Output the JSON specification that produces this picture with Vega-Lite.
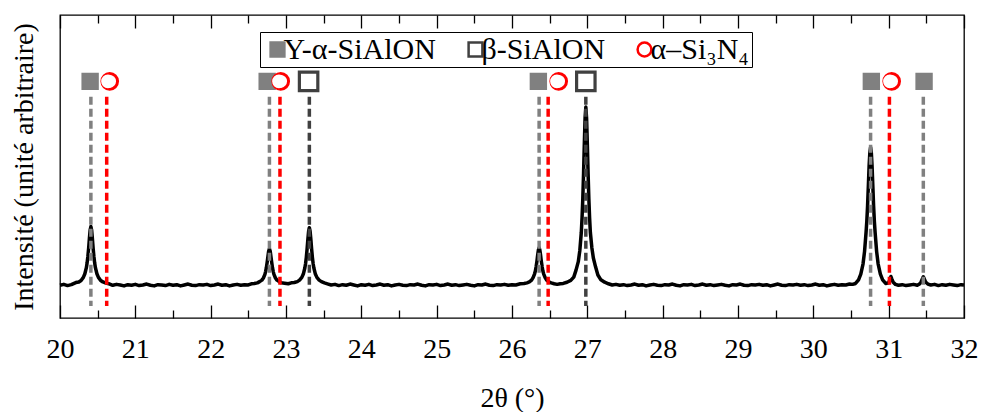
{
  "$schema": "https://vega.github.io/schema/vega-lite/v6.json",
  "width": 904,
  "height": 303,
  "autosize": "none",
  "padding": {"left": 60, "top": 15, "right": 17, "bottom": 94},
  "background": "white",
  "config": {
    "font": "Liberation Serif",
    "view": {"stroke": "black", "strokeWidth": 1.3},
    "axis": {"grid": false, "domain": false, "tickColor": "black", "tickWidth": 1.3, "labelColor": "black", "titleColor": "black", "labelFont": "Liberation Serif", "titleFont": "Liberation Serif", "titleFontWeight": "normal"},
    "legend": {"orient": "none", "legendX": 200, "legendY": 17, "direction": "horizontal", "labelFontSize": 30, "labelFont": "Liberation Serif", "labelColor": "black", "labelLimit": 400, "labelOffset": -9, "columnPadding": 24, "symbolSize": 190, "symbolStrokeWidth": 2.5, "symbolOpacity": 1, "padding": 2.5, "strokeColor": "black", "fillColor": "white", "cornerRadius": 0}
  },
  "datasets": {
    "spectrum": [
      {"t":20.00,"i":10.8},{"t":20.05,"i":11.1},{"t":20.10,"i":10.7},{"t":20.15,"i":11.0},{"t":20.21,"i":11.7},{"t":20.25,"i":11.9},{"t":20.28,"i":12.4},{"t":20.31,"i":13.4},{"t":20.33,"i":14.6},{"t":20.35,"i":16.6},{"t":20.36,"i":18.2},{"t":20.37,"i":20.3},{"t":20.38,"i":23.0},{"t":20.39,"i":26.2},{"t":20.40,"i":29.0},{"t":20.41,"i":30.2},{"t":20.42,"i":29.0},{"t":20.43,"i":26.2},{"t":20.44,"i":23.0},{"t":20.45,"i":20.3},{"t":20.46,"i":18.2},{"t":20.47,"i":16.6},{"t":20.49,"i":14.6},{"t":20.51,"i":13.4},{"t":20.54,"i":12.4},{"t":20.57,"i":11.9},{"t":20.61,"i":11.5},{"t":20.66,"i":11.2},
      {"t":20.70,"i":10.8},{"t":20.75,"i":11.1},{"t":20.80,"i":10.9},{"t":20.85,"i":10.6},{"t":20.90,"i":11.0},{"t":20.95,"i":10.8},{"t":21.00,"i":11.1},{"t":21.05,"i":10.7},{"t":21.10,"i":10.9},{"t":21.15,"i":11.2},{"t":21.20,"i":10.8},{"t":21.25,"i":10.6},{"t":21.30,"i":11.0},{"t":21.35,"i":10.9},{"t":21.40,"i":10.7},{"t":21.45,"i":11.1},{"t":21.50,"i":10.8},{"t":21.55,"i":11.0},{"t":21.60,"i":10.6},{"t":21.65,"i":10.9},{"t":21.70,"i":11.2},{"t":21.75,"i":10.8},{"t":21.80,"i":10.7},{"t":21.85,"i":11.0},{"t":21.90,"i":10.9},{"t":21.95,"i":11.1},{"t":22.00,"i":10.7},{"t":22.05,"i":10.9},{"t":22.10,"i":11.2},{"t":22.15,"i":10.8},{"t":22.20,"i":11.0},{"t":22.25,"i":10.6},{"t":22.30,"i":10.9},{"t":22.35,"i":11.1},{"t":22.40,"i":10.8},{"t":22.45,"i":11.0},{"t":22.50,"i":10.9},
      {"t":22.54,"i":11.3},{"t":22.58,"i":11.4},{"t":22.62,"i":11.6},{"t":22.65,"i":12.0},{"t":22.68,"i":12.5},{"t":22.70,"i":13.2},{"t":22.72,"i":14.4},{"t":22.73,"i":15.4},{"t":22.74,"i":16.7},{"t":22.75,"i":18.4},{"t":22.76,"i":20.3},{"t":22.77,"i":22.1},{"t":22.78,"i":22.8},{"t":22.79,"i":22.1},{"t":22.80,"i":20.3},{"t":22.81,"i":18.4},{"t":22.82,"i":16.7},{"t":22.83,"i":15.4},{"t":22.84,"i":14.4},{"t":22.86,"i":13.2},{"t":22.88,"i":12.5},{"t":22.91,"i":12.0},{"t":22.94,"i":11.6},{"t":22.98,"i":11.5},{"t":23.03,"i":11.3},
      {"t":23.07,"i":11.6},{"t":23.11,"i":11.7},{"t":23.15,"i":12.0},{"t":23.18,"i":12.5},{"t":23.21,"i":13.4},{"t":23.23,"i":14.5},{"t":23.25,"i":16.5},{"t":23.26,"i":18.0},{"t":23.27,"i":20.1},{"t":23.28,"i":22.8},{"t":23.29,"i":25.9},{"t":23.30,"i":28.6},{"t":23.31,"i":29.8},{"t":23.32,"i":28.6},{"t":23.33,"i":25.9},{"t":23.34,"i":22.8},{"t":23.35,"i":20.1},{"t":23.36,"i":18.0},{"t":23.37,"i":16.5},{"t":23.39,"i":14.5},{"t":23.41,"i":13.4},{"t":23.44,"i":12.5},{"t":23.47,"i":12.0},{"t":23.51,"i":11.6},{"t":23.56,"i":11.2},
      {"t":23.60,"i":10.9},{"t":23.65,"i":11.1},{"t":23.70,"i":10.7},{"t":23.75,"i":11.0},{"t":23.80,"i":10.8},{"t":23.85,"i":11.2},{"t":23.90,"i":10.9},{"t":23.95,"i":10.6},{"t":24.00,"i":11.0},{"t":24.05,"i":10.8},{"t":24.10,"i":11.1},{"t":24.15,"i":10.7},{"t":24.20,"i":10.9},{"t":24.25,"i":11.2},{"t":24.30,"i":10.8},{"t":24.35,"i":11.0},{"t":24.40,"i":10.6},{"t":24.45,"i":10.9},{"t":24.50,"i":11.1},{"t":24.55,"i":10.8},{"t":24.60,"i":10.7},{"t":24.65,"i":11.0},{"t":24.70,"i":10.9},{"t":24.75,"i":11.2},{"t":24.80,"i":10.8},{"t":24.85,"i":10.6},{"t":24.90,"i":11.0},{"t":24.95,"i":10.9},{"t":25.00,"i":11.1},{"t":25.05,"i":10.7},{"t":25.10,"i":10.9},{"t":25.15,"i":11.2},{"t":25.20,"i":10.8},{"t":25.25,"i":11.0},{"t":25.30,"i":10.7},{"t":25.35,"i":10.9},{"t":25.40,"i":11.1},{"t":25.45,"i":10.8},{"t":25.50,"i":10.6},{"t":25.55,"i":11.0},{"t":25.60,"i":10.9},{"t":25.65,"i":11.2},{"t":25.70,"i":10.8},{"t":25.75,"i":10.7},{"t":25.80,"i":11.0},{"t":25.85,"i":10.9},{"t":25.90,"i":11.1},{"t":25.95,"i":10.8},{"t":26.00,"i":11.0},{"t":26.05,"i":10.9},
      {"t":26.11,"i":11.3},{"t":26.16,"i":11.4},{"t":26.20,"i":11.6},{"t":26.23,"i":11.9},{"t":26.26,"i":12.5},{"t":26.28,"i":13.3},{"t":26.30,"i":14.6},{"t":26.31,"i":15.5},{"t":26.32,"i":16.9},{"t":26.33,"i":18.6},{"t":26.34,"i":20.6},{"t":26.35,"i":22.4},{"t":26.36,"i":23.2},{"t":26.37,"i":22.4},{"t":26.38,"i":20.6},{"t":26.39,"i":18.6},{"t":26.40,"i":16.9},{"t":26.41,"i":15.5},{"t":26.42,"i":14.6},{"t":26.44,"i":13.3},{"t":26.46,"i":12.5},{"t":26.49,"i":11.9},{"t":26.52,"i":11.6},{"t":26.56,"i":11.3},{"t":26.60,"i":11.1},{"t":26.64,"i":11.3},
      {"t":26.68,"i":11.4},{"t":26.73,"i":11.8},{"t":26.78,"i":12.4},{"t":26.82,"i":13.5},{"t":26.85,"i":15.8},{"t":26.88,"i":18.6},{"t":26.90,"i":22.2},{"t":26.92,"i":28.3},{"t":26.93,"i":33.1},{"t":26.94,"i":39.5},{"t":26.95,"i":47.8},{"t":26.96,"i":57.4},{"t":26.97,"i":66.0},{"t":26.98,"i":69.6},{"t":26.99,"i":66.0},{"t":27.00,"i":57.4},{"t":27.01,"i":47.8},{"t":27.02,"i":39.5},{"t":27.03,"i":33.1},{"t":27.04,"i":28.3},{"t":27.06,"i":23.2},{"t":27.08,"i":19.8},{"t":27.11,"i":16.8},{"t":27.14,"i":14.2},{"t":27.18,"i":12.6},{"t":27.23,"i":11.8},{"t":27.28,"i":11.3},
      {"t":27.33,"i":10.9},{"t":27.38,"i":11.1},{"t":27.43,"i":10.8},{"t":27.48,"i":11.0},{"t":27.53,"i":10.7},{"t":27.58,"i":10.9},{"t":27.63,"i":11.2},{"t":27.68,"i":10.8},{"t":27.73,"i":11.0},{"t":27.78,"i":10.6},{"t":27.83,"i":10.9},{"t":27.88,"i":11.1},{"t":27.93,"i":10.8},{"t":27.98,"i":10.7},{"t":28.03,"i":11.0},{"t":28.08,"i":10.9},{"t":28.13,"i":11.2},{"t":28.18,"i":10.8},{"t":28.23,"i":10.6},{"t":28.28,"i":11.0},{"t":28.33,"i":10.9},{"t":28.38,"i":11.1},{"t":28.43,"i":10.7},{"t":28.48,"i":10.9},{"t":28.53,"i":11.2},{"t":28.58,"i":10.8},{"t":28.63,"i":11.0},{"t":28.68,"i":10.7},{"t":28.73,"i":10.9},{"t":28.78,"i":11.1},{"t":28.83,"i":10.8},{"t":28.88,"i":10.6},{"t":28.93,"i":11.0},{"t":28.98,"i":10.9},{"t":29.03,"i":11.2},{"t":29.08,"i":10.8},{"t":29.13,"i":10.7},{"t":29.18,"i":11.0},{"t":29.23,"i":10.9},{"t":29.28,"i":11.1},{"t":29.33,"i":10.8},{"t":29.38,"i":11.0},{"t":29.43,"i":10.6},{"t":29.48,"i":10.9},{"t":29.53,"i":11.2},{"t":29.58,"i":10.8},{"t":29.63,"i":10.7},{"t":29.68,"i":11.0},{"t":29.73,"i":10.9},{"t":29.78,"i":11.1},{"t":29.83,"i":10.8},{"t":29.88,"i":11.0},{"t":29.93,"i":10.7},{"t":29.98,"i":10.9},{"t":30.03,"i":11.2},{"t":30.08,"i":10.8},{"t":30.13,"i":11.0},{"t":30.18,"i":10.6},{"t":30.23,"i":10.9},{"t":30.28,"i":11.1},{"t":30.33,"i":10.8},{"t":30.38,"i":11.0},{"t":30.43,"i":10.9},{"t":30.48,"i":11.2},
      {"t":30.52,"i":11.1},{"t":30.56,"i":11.4},{"t":30.60,"i":12.6},{"t":30.63,"i":14.5},{"t":30.66,"i":17.9},{"t":30.68,"i":22.0},{"t":30.70,"i":28.3},{"t":30.71,"i":32.0},{"t":30.72,"i":37.0},{"t":30.73,"i":43.5},{"t":30.74,"i":50.0},{"t":30.75,"i":54.5},{"t":30.76,"i":56.4},{"t":30.77,"i":54.5},{"t":30.78,"i":50.0},{"t":30.79,"i":43.5},{"t":30.80,"i":37.0},{"t":30.81,"i":32.0},{"t":30.82,"i":28.3},{"t":30.84,"i":22.0},{"t":30.86,"i":17.9},{"t":30.89,"i":14.5},{"t":30.92,"i":12.6},{"t":30.96,"i":11.4},
      {"t":31.00,"i":11.6},{"t":31.02,"i":13.0},{"t":31.03,"i":13.7},{"t":31.04,"i":13.0},{"t":31.06,"i":11.8},{"t":31.09,"i":11.1},{"t":31.13,"i":10.8},{"t":31.18,"i":11.0},{"t":31.23,"i":10.7},{"t":31.28,"i":10.9},{"t":31.33,"i":11.1},{"t":31.38,"i":10.8},
      {"t":31.41,"i":11.2},{"t":31.43,"i":11.9},{"t":31.45,"i":13.1},{"t":31.46,"i":13.6},{"t":31.47,"i":13.1},{"t":31.49,"i":11.9},{"t":31.52,"i":11.2},{"t":31.56,"i":10.9},{"t":31.61,"i":11.1},{"t":31.66,"i":10.7},{"t":31.71,"i":11.0},{"t":31.76,"i":10.8},{"t":31.81,"i":11.1},{"t":31.86,"i":10.9},{"t":31.91,"i":10.7},{"t":31.96,"i":11.0},{"t":32.00,"i":10.9}
    ],
    "refs": [
      {"phase":"Y-α-SiAlON","pos":20.41},{"phase":"Y-α-SiAlON","pos":22.78},{"phase":"Y-α-SiAlON","pos":26.36},{"phase":"Y-α-SiAlON","pos":30.76},{"phase":"Y-α-SiAlON","pos":31.46},
      {"phase":"β-SiAlON","pos":23.31},{"phase":"β-SiAlON","pos":26.98},
      {"phase":"α–Si₃N₄","pos":20.62},{"phase":"α–Si₃N₄","pos":22.92},{"phase":"α–Si₃N₄","pos":26.48},{"phase":"α–Si₃N₄","pos":31.01}
    ],
    "markers": [
      {"phase":"Y-α-SiAlON","pos":20.40},{"phase":"Y-α-SiAlON","pos":22.75},{"phase":"Y-α-SiAlON","pos":26.35},{"phase":"Y-α-SiAlON","pos":30.77},{"phase":"Y-α-SiAlON","pos":31.47},
      {"phase":"β-SiAlON","pos":23.30},{"phase":"β-SiAlON","pos":26.98},
      {"phase":"α–Si₃N₄","pos":20.66},{"phase":"α–Si₃N₄","pos":22.93},{"phase":"α–Si₃N₄","pos":26.62},{"phase":"α–Si₃N₄","pos":31.04}
    ]
  },
  "layer": [
    {
      "data": {"name": "spectrum"},
      "mark": {"type": "line", "color": "black", "strokeWidth": 3.5, "strokeJoin": "round"},
      "encoding": {
        "x": {"field": "t", "type": "quantitative", "scale": {"domain": [20, 32], "nice": false, "zero": false},
          "axis": {"orient": "bottom", "values": [20,21,22,23,24,25,26,27,28,29,30,31,32], "format": "d", "tickSize": -13, "labelFontSize": 28, "labelPadding": 30, "labelOverlap": false, "labelFlush": false, "title": "2θ (°)", "titleFontSize": 28, "titlePadding": 21}},
        "y": {"field": "i", "type": "quantitative", "scale": {"domain": [0, 100], "nice": false, "zero": false},
          "axis": {"ticks": false, "labels": false, "title": "Intensité (unité arbitraire)", "titleFontSize": 28, "titlePadding": 22}}
      }
    },
    {
      "data": {"name": "refs"},
      "mark": {"type": "rule", "strokeWidth": 3.5, "strokeDash": [8, 4]},
      "encoding": {
        "x": {"field": "pos", "type": "quantitative", "scale": {"domain": [20, 32], "nice": false, "zero": false},
          "axis": {"orient": "bottom", "values": [20.5,21.5,22.5,23.5,24.5,25.5,26.5,27.5,28.5,29.5,30.5,31.5], "tickSize": -8, "labels": false, "title": null}},
        "y": {"datum": 73, "type": "quantitative", "scale": {"domain": [0, 100], "nice": false, "zero": false}, "axis": {"ticks": false, "labels": false, "title": "Intensité (unité arbitraire)", "titleFontSize": 28, "titlePadding": 22}},
        "y2": {"datum": 4},
        "color": {"condition": [{"test": "datum.phase === 'β-SiAlON'", "value": "#404040"}, {"test": "datum.phase === 'α–Si₃N₄'", "value": "#ff0000"}], "value": "#808080"}
      }
    },
    {
      "data": {"name": "markers"},
      "transform": [{"filter": "datum.phase === 'Y-α-SiAlON'"}],
      "mark": {"type": "point", "filled": true, "strokeWidth": 3, "opacity": 1, "size": 207},
      "encoding": {
        "x": {"field": "pos", "type": "quantitative", "scale": {"domain": [20, 32], "nice": false, "zero": false},
          "axis": {"orient": "top", "values": [20,21,22,23,24,25,26,27,28,29,30,31,32], "tickSize": -13, "labels": false, "title": null}},
        "y": {"datum": 78.1, "type": "quantitative", "scale": {"domain": [0, 100], "nice": false, "zero": false}, "axis": {"ticks": false, "labels": false, "title": "Intensité (unité arbitraire)", "titleFontSize": 28, "titlePadding": 22}},
        "shape": {"field": "phase", "type": "nominal", "scale": {"domain": ["Y-α-SiAlON", "β-SiAlON", "α–Si₃N₄"], "range": ["square", "square", "circle"]}, "legend": {"title": null}},
        "fill": {"field": "phase", "type": "nominal", "scale": {"domain": ["Y-α-SiAlON", "β-SiAlON", "α–Si₃N₄"], "range": ["#808080", "white", "white"]}, "legend": {"title": null}},
        "stroke": {"field": "phase", "type": "nominal", "scale": {"domain": ["Y-α-SiAlON", "β-SiAlON", "α–Si₃N₄"], "range": ["#808080", "#404040", "#ff0000"]}, "legend": {"title": null}}
      }
    },
    {
      "data": {"name": "markers"},
      "transform": [{"filter": "datum.phase === 'β-SiAlON'"}],
      "mark": {"type": "point", "filled": true, "strokeWidth": 3.2, "opacity": 1, "size": 340},
      "encoding": {
        "x": {"field": "pos", "type": "quantitative", "scale": {"domain": [20, 32], "nice": false, "zero": false},
          "axis": {"orient": "top", "values": [20.5,21.5,22.5,23.5,24.5,25.5,26.5,27.5,28.5,29.5,30.5,31.5], "tickSize": -8, "labels": false, "title": null}},
        "y": {"datum": 78.1, "type": "quantitative", "scale": {"domain": [0, 100], "nice": false, "zero": false}, "axis": {"ticks": false, "labels": false, "title": "Intensité (unité arbitraire)", "titleFontSize": 28, "titlePadding": 22}},
        "shape": {"field": "phase", "type": "nominal", "scale": {"domain": ["Y-α-SiAlON", "β-SiAlON", "α–Si₃N₄"], "range": ["square", "square", "circle"]}, "legend": {"title": null}},
        "fill": {"field": "phase", "type": "nominal", "scale": {"domain": ["Y-α-SiAlON", "β-SiAlON", "α–Si₃N₄"], "range": ["#808080", "white", "white"]}, "legend": {"title": null}},
        "stroke": {"field": "phase", "type": "nominal", "scale": {"domain": ["Y-α-SiAlON", "β-SiAlON", "α–Si₃N₄"], "range": ["#808080", "#404040", "#ff0000"]}, "legend": {"title": null}}
      }
    },
    {
      "data": {"name": "markers"},
      "transform": [{"filter": "datum.phase === 'α–Si₃N₄'"}],
      "mark": {"type": "point", "filled": true, "strokeWidth": 3, "opacity": 1, "size": 246},
      "encoding": {
        "x": {"field": "pos", "type": "quantitative", "scale": {"domain": [20, 32], "nice": false, "zero": false}, "axis": null},
        "y": {"datum": 78.1, "type": "quantitative", "scale": {"domain": [0, 100], "nice": false, "zero": false}, "axis": {"ticks": false, "labels": false, "title": "Intensité (unité arbitraire)", "titleFontSize": 28, "titlePadding": 22}},
        "shape": {"field": "phase", "type": "nominal", "scale": {"domain": ["Y-α-SiAlON", "β-SiAlON", "α–Si₃N₄"], "range": ["square", "square", "circle"]}, "legend": {"title": null}},
        "fill": {"field": "phase", "type": "nominal", "scale": {"domain": ["Y-α-SiAlON", "β-SiAlON", "α–Si₃N₄"], "range": ["#808080", "white", "white"]}, "legend": {"title": null}},
        "stroke": {"field": "phase", "type": "nominal", "scale": {"domain": ["Y-α-SiAlON", "β-SiAlON", "α–Si₃N₄"], "range": ["#808080", "#404040", "#ff0000"]}, "legend": {"title": null}}
      }
    },
    {
      "data": {"name": "markers"},
      "transform": [{"filter": "datum.phase === 'α–Si₃N₄'"}],
      "mark": {"type": "point", "shape": "circle", "filled": true, "color": "white", "opacity": 1, "size": 185, "xOffset": -1.8},
      "encoding": {
        "x": {"field": "pos", "type": "quantitative", "scale": {"domain": [20, 32], "nice": false, "zero": false}, "axis": null},
        "y": {"datum": 78.1, "type": "quantitative", "scale": {"domain": [0, 100], "nice": false, "zero": false}, "axis": {"ticks": false, "labels": false, "title": "Intensité (unité arbitraire)", "titleFontSize": 28, "titlePadding": 22}}
      }
    }
  ],
  "resolve": {"axis": {"x": "independent"}}
}
